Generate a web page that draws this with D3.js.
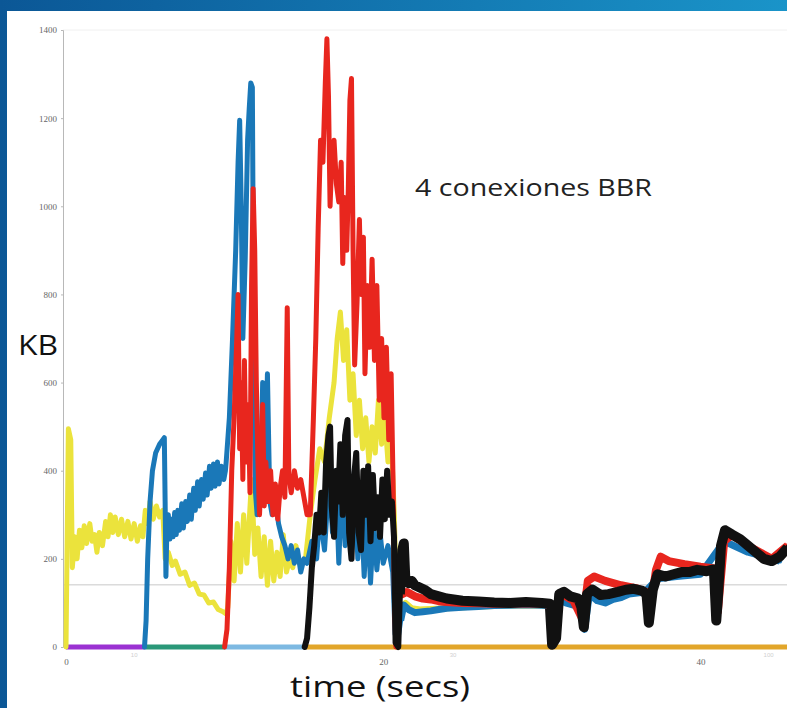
<!DOCTYPE html>
<html>
<head>
<meta charset="utf-8">
<script src="https://cdn.jsdelivr.net/npm/d3@7"></script>
<style>
  body { margin: 0; background: #fff; }
  svg { display: block; }
</style>
</head>
<body>
<div id="vis"></div>
<script>
// cwnd in KB over time (secs)

let yellowData = [
  [0, 0], [0.15, 495], [0.3, 470], [0.4, 180], [0.55, 250], [0.7, 200], [0.85, 265], [1.0, 225],
  [1.15, 275], [1.3, 235], [1.5, 280], [1.65, 240], [1.8, 255], [1.95, 215], [2.1, 260], [2.3, 230],
  [2.5, 285], [2.65, 250], [2.8, 300], [2.95, 260], [3.1, 295], [3.3, 255], [3.5, 290], [3.7, 250],
  [3.9, 285], [4.1, 245], [4.3, 280], [4.5, 240], [4.7, 275], [4.85, 250], [5.0, 310], [5.15, 280],
  [5.3, 330], [5.5, 290], [5.7, 320], [5.9, 295], [6.1, 310], [6.25, 200], [6.45, 215], [6.7, 185],
  [6.9, 195], [7.2, 165], [7.5, 170], [7.8, 140], [8.1, 145], [8.4, 120], [8.7, 118], [9.0, 100],
  [9.3, 102], [9.6, 85], [9.9, 80], [10.1, 75], [10.2, 90], [10.4, 240], [10.6, 150], [10.8, 280],
  [11.0, 170], [11.2, 300], [11.4, 190], [11.7, 380], [11.9, 210], [12.1, 270], [12.3, 160], [12.5, 250],
  [12.7, 140], [12.9, 240], [13.1, 150], [13.3, 215], [13.5, 160], [13.7, 255], [13.9, 170], [14.1, 200],
  [14.3, 180], [14.5, 230], [14.7, 190], [15.1, 200], [15.4, 300], [15.7, 380], [16.0, 450], [16.3, 420],
  [16.6, 520], [16.9, 600], [17.1, 700], [17.3, 760], [17.5, 650], [17.7, 720], [17.9, 560], [18.1, 620],
  [18.3, 480], [18.5, 560], [18.7, 450], [18.9, 520], [19.1, 420], [19.3, 500], [19.5, 440], [19.7, 560],
  [19.9, 460], [20.1, 520], [20.3, 420], [20.5, 480], [20.7, 300], [20.9, 20], [21.1, 90], [21.4, 100],
  [21.8, 88], [22.3, 85], [23, 86], [24, 88], [25, 90], [26, 92], [27, 93], [28, 94], [29, 95], [30.4, 94]
];

let blueData = [
  [4.95, 0], [5.05, 60], [5.15, 200], [5.3, 330], [5.45, 400], [5.65, 440], [5.9, 460], [6.1, 470],
  [6.2, 475], [6.25, 330], [6.3, 160], [6.35, 250], [6.45, 300], [6.55, 245], [6.65, 290], [6.75, 250],
  [6.85, 305], [6.95, 255], [7.05, 310], [7.15, 265], [7.3, 325], [7.4, 270], [7.55, 330], [7.65, 285],
  [7.8, 345], [7.9, 290], [8.05, 360], [8.15, 310], [8.3, 375], [8.4, 320], [8.55, 380], [8.65, 335],
  [8.8, 395], [8.9, 345], [9.05, 410], [9.15, 360], [9.3, 415], [9.4, 365], [9.55, 420], [9.65, 370],
  [9.8, 410], [9.95, 380], [10.05, 400], [10.1, 420], [10.3, 520], [10.5, 700], [10.7, 900], [10.85, 1100],
  [10.95, 1195], [11.05, 1000], [11.15, 700], [11.3, 880], [11.45, 1150], [11.55, 1220], [11.65, 1280],
  [11.75, 1270], [11.85, 600], [11.95, 350], [12.05, 300], [12.15, 480], [12.25, 330], [12.4, 600],
  [12.55, 340], [12.7, 620], [12.85, 330], [13.0, 300], [13.2, 340], [13.4, 280], [13.6, 250], [13.8, 230],
  [14.0, 200], [14.2, 230], [14.4, 190], [14.6, 220], [14.8, 170], [15.0, 200], [15.2, 190], [15.5, 240],
  [15.8, 200], [16.0, 300], [16.3, 220], [16.6, 390], [16.8, 260], [17.0, 400], [17.2, 190], [17.4, 380],
  [17.6, 230], [17.8, 420], [18.0, 210], [18.2, 370], [18.4, 200], [18.6, 330], [18.8, 160], [19.0, 300],
  [19.2, 145], [19.4, 280], [19.6, 175], [19.8, 260], [20.0, 190], [20.3, 230], [20.6, 170], [20.75, 30],
  [20.9, 10], [21.1, 60], [21.3, 95], [21.6, 85], [22.0, 78], [22.5, 80], [23.0, 82], [23.5, 85],
  [24.0, 88], [25, 90], [26, 92], [27, 94], [28, 95], [29, 96], [30, 95], [30.5, 93], [30.7, 5],
  [31.1, 110], [31.5, 100], [32.0, 95], [32.5, 90], [32.7, 40], [33.0, 120], [33.5, 105], [34, 100],
  [34.5, 108], [35, 112], [35.5, 120], [36.5, 125], [37.3, 155], [38.5, 160], [40, 165], [41.5, 240], [43, 215], [45, 195]
];

let redData = [
  [10.0, 0], [10.15, 40], [10.3, 180], [10.45, 400], [10.6, 520], [10.75, 680], [10.85, 800], [10.95, 450],
  [11.05, 600], [11.15, 380], [11.25, 650], [11.35, 420], [11.5, 550], [11.6, 350], [11.7, 820], [11.8, 1040],
  [11.9, 900], [12.0, 600], [12.1, 420], [12.2, 300], [12.3, 380], [12.4, 550], [12.5, 320], [12.6, 420],
  [12.75, 330], [12.9, 400], [13.05, 300], [13.2, 370], [13.35, 290], [13.5, 360], [13.65, 400], [13.8, 340],
  [13.95, 770], [14.05, 390], [14.2, 350], [14.4, 400], [14.6, 360], [14.8, 380], [15.0, 340], [15.2, 300],
  [15.4, 300], [15.6, 520], [15.75, 700], [15.9, 950], [16.05, 1150], [16.2, 1100], [16.35, 1280], [16.45, 1380],
  [16.55, 1250], [16.65, 1000], [16.75, 1100], [16.9, 1150], [17.05, 1050], [17.2, 1010], [17.35, 1100],
  [17.45, 870], [17.55, 1020], [17.7, 900], [17.8, 1040], [17.9, 1240], [18.0, 1290], [18.1, 900], [18.2, 640],
  [18.35, 780], [18.5, 970], [18.6, 800], [18.75, 930], [18.85, 620], [19.0, 820], [19.15, 680], [19.3, 880],
  [19.45, 650], [19.6, 820], [19.75, 560], [19.9, 700], [20.05, 520], [20.2, 680], [20.35, 470], [20.5, 620],
  [20.62, 380], [20.72, 80], [20.8, 0], [20.9, 20], [21.0, 140], [21.2, 120], [21.5, 125], [22.0, 115],
  [22.5, 110], [23.0, 108], [23.5, 104], [24.0, 102], [25, 100], [26, 99], [27, 98], [28, 98], [29, 99],
  [30, 98], [30.5, 96], [30.7, 10], [31.1, 120], [31.5, 115], [32.0, 105], [32.6, 60], [32.9, 150],
  [33.3, 160], [34, 150], [35, 140], [36, 133], [36.6, 125], [36.8, 75], [37.2, 175], [37.5, 205], [38, 195],
  [39, 188], [40, 182], [40.9, 178], [41.1, 80], [41.5, 240], [42, 255], [43, 230], [44, 210], [44.5, 200], [45.5, 230]
];

let blackData = [
  [15.05, 0], [15.2, 20], [15.35, 90], [15.5, 180], [15.65, 230], [15.8, 300], [15.95, 260], [16.1, 350],
  [16.25, 260], [16.4, 420], [16.55, 480], [16.65, 500], [16.75, 320], [16.9, 250], [17.05, 400], [17.15, 330],
  [17.3, 460], [17.45, 300], [17.6, 480], [17.75, 515], [17.85, 260], [18.0, 200], [18.15, 380], [18.3, 440],
  [18.45, 260], [18.6, 220], [18.75, 400], [18.9, 300], [19.05, 410], [19.2, 240], [19.35, 390], [19.5, 270],
  [19.65, 340], [19.8, 250], [19.95, 380], [20.1, 290], [20.25, 400], [20.4, 300], [20.55, 330], [20.68, 250],
  [20.78, 10], [20.95, 0], [21.05, 120], [21.2, 220], [21.3, 235], [21.4, 150], [21.6, 145], [21.8, 150],
  [22.0, 140], [22.3, 135], [22.6, 130], [23.0, 120], [23.5, 115], [24.0, 110], [25, 105], [26, 103],
  [27, 101], [28, 100], [29, 102], [30, 100], [30.5, 98], [30.65, 5], [30.9, 20], [31.1, 120], [31.4, 125],
  [31.8, 115], [32.3, 110], [32.5, 90], [32.65, 45], [32.85, 120], [33.2, 130], [33.7, 118], [34.2, 120],
  [34.8, 125], [35.3, 130], [35.8, 132], [36.3, 128], [36.6, 120], [36.75, 55], [37.0, 130], [37.3, 165],
  [37.8, 160], [38.3, 165], [38.8, 170], [39.3, 170], [39.8, 175], [40.4, 172], [40.85, 176], [41.0, 60],
  [41.1, 110], [41.3, 230], [41.55, 265], [42, 255], [42.5, 245], [43, 230], [43.5, 215], [44, 200],
  [44.5, 195], [45, 205], [45.5, 225]
];

// idle connections sitting on the zero line
let zeroStarts = [0, 5.0, 10.05, 15.05];
let zeroEnds = [5.0, 10.05, 15.05, 45.5];
let zeroColors = ['#9b32d2', '#2a9878', '#7db9e2', '#e2a62a'];

let yTicks = [0, 200, 400, 600, 800, 1000, 1200, 1400];
let xTicks = [0, 20, 40];
let ghostTicks = [4.3, 24.4, 44.3];
let ghostLabels = ['10', '30', '100'];
let refLine = 141;
let steadyFrom = 21.0; // after this the windows jitter in a thick band

let seriesColors = ['#ebe33c', '#1a78b8', '#e8261e', '#111111'];

let W = 787, H = 708;

let svg = d3.select('#vis')
  .append('svg')
  .attr('width', W)
  .attr('height', H)

// blue frame
let grad = svg.append('defs').append('linearGradient')
  .attr('id', 'frame')
  .attr('x1', '0').attr('x2', '1').attr('y1', '0').attr('y2', '0')
grad.append('stop').attr('offset', '0').attr('stop-color', '#0b5796')
grad.append('stop').attr('offset', '1').attr('stop-color', '#1a94c9')

svg.append('rect').attr('width', W).attr('height', H).attr('fill', 'url(#frame)')
svg.append('rect').attr('x', 7).attr('y', 11).attr('width', W - 7).attr('height', H - 11).attr('fill', '#fff')

let x = d3.scaleLinear().domain([0, 45.46]).range([66, 787])
let y = d3.scaleLinear().domain([0, 1400]).range([647, 30])

// faint grid lines
svg.append('line')
  .attr('x1', 63).attr('x2', W)
  .attr('y1', y(refLine)).attr('y2', y(refLine))
  .attr('stroke', '#c8c8c8').attr('stroke-width', 1)
svg.append('line')
  .attr('x1', 63).attr('x2', W)
  .attr('y1', y(1400)).attr('y2', y(1400))
  .attr('stroke', '#f0f0f0').attr('stroke-width', 1)

let yAxis = svg.append('g')
  .attr('transform', 'translate(63,0)')
  .call(d3.axisLeft(y).tickValues(yTicks).tickFormat(d3.format('d')).tickSize(2).tickPadding(4))
yAxis.select('.domain').attr('stroke', '#b8b8b8')
yAxis.selectAll('.tick line').attr('stroke', '#b8b8b8')
yAxis.selectAll('text')
  .attr('fill', '#666')
  .style('font-family', 'Liberation Serif')
  .style('font-size', '9px')

let xAxis = svg.append('g')
  .attr('transform', 'translate(0,' + 657 + ')')
  .call(d3.axisBottom(x).tickValues(xTicks).tickSize(0).tickPadding(2))
xAxis.select('.domain').remove()
xAxis.selectAll('text')
  .attr('fill', '#666')
  .style('font-family', 'Liberation Serif')
  .style('font-size', '9px')

svg.selectAll('.ghost')
  .data(ghostTicks)
  .enter()
  .append('text')
  .attr('x', d => x(d))
  .attr('y', 657)
  .attr('text-anchor', 'middle')
  .attr('fill', '#d0d0d0')
  .style('font-family', 'Liberation Sans')
  .style('font-size', '6px')
  .text((d, i) => ghostLabels[i])

// zero line segments
svg.selectAll('.zero')
  .data(zeroStarts)
  .enter()
  .append('line')
  .attr('x1', d => x(d))
  .attr('x2', (d, i) => x(zeroEnds[i]))
  .attr('y1', y(0)).attr('y2', y(0))
  .attr('stroke', (d, i) => zeroColors[i])
  .attr('stroke-width', 5)

let line = d3.line()
  .x(d => x(d[0]))
  .y(d => y(d[1]))

let series = [yellowData, blueData, redData, blackData]
let steadyWidths = [6, 7, 8, 10]

series.forEach(function (s, i) {
  svg.append('path')
    .attr('d', line(s))
    .attr('fill', 'none')
    .attr('stroke', seriesColors[i])
    .attr('stroke-width', i == 3 ? 6 : 5)
    .attr('stroke-linejoin', 'round')
    .attr('stroke-linecap', 'round')
  // thicker jitter band for the steady part
  svg.append('path')
    .attr('d', line(s.filter(d => d[0] >= steadyFrom)))
    .attr('fill', 'none')
    .attr('stroke', seriesColors[i])
    .attr('stroke-width', steadyWidths[i])
    .attr('stroke-linejoin', 'round')
})

// labels
svg.append('text')
  .attr('x', 415).attr('y', 196)
  .attr('fill', '#222')
  .attr('textLength', 237)
  .attr('lengthAdjust', 'spacingAndGlyphs')
  .style('font-family', 'Open Sans')
  .style('font-size', '24px')
  .text('4 conexiones BBR')

svg.append('text')
  .attr('x', 18).attr('y', 355)
  .attr('fill', '#111')
  .attr('textLength', 40)
  .attr('lengthAdjust', 'spacingAndGlyphs')
  .style('font-family', 'Open Sans')
  .style('font-size', '28px')
  .text('KB')

svg.append('text')
  .attr('x', 290).attr('y', 697)
  .attr('fill', '#111')
  .attr('textLength', 180)
  .attr('lengthAdjust', 'spacingAndGlyphs')
  .style('font-family', 'Open Sans')
  .style('font-size', '29px')
  .text('time (secs)')
</script>
</body>
</html>
